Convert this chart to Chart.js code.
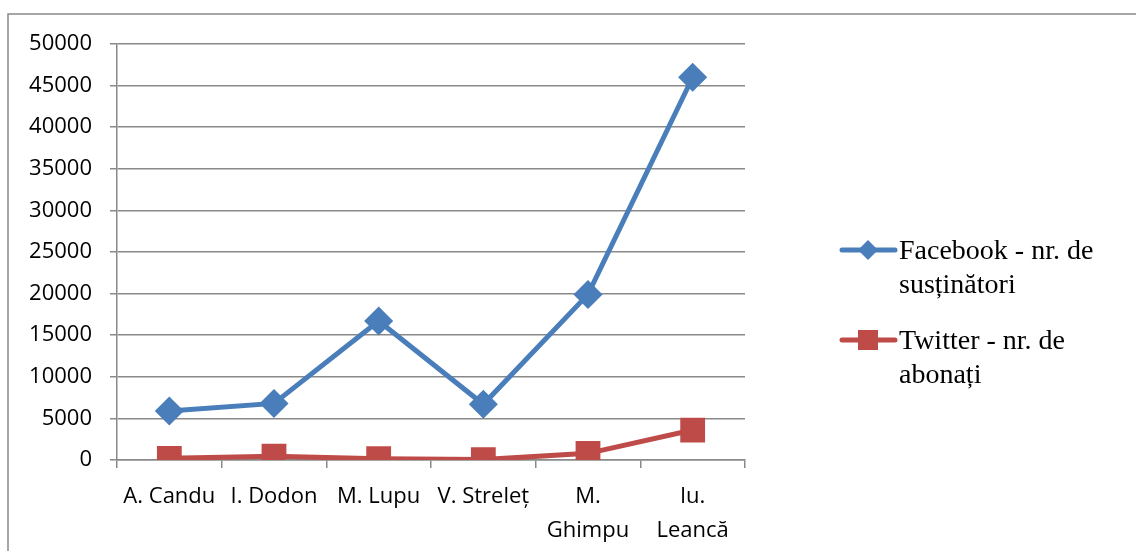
<!DOCTYPE html>
<html>
<head>
<meta charset="utf-8">
<script src="https://cdn.jsdelivr.net/npm/chart.js@4/dist/chart.umd.min.js"></script>
<style>
  html, body { margin: 0; padding: 0; background: #fff; }
  #wrap { width: 1136px; height: 551px; position: relative; }
</style>
</head>
<body>
<div id="wrap"><canvas id="grafic"></canvas></div>
<script>
const candidati = ["A. Candu", "I. Dodon", "M. Lupu", "V. Streleț", ["M.", "Ghimpu"], ["Iu.", "Leancă"]];
const facebook = [5900, 6800, 16700, 6700, 19900, 46000];
const twitter = [200, 450, 150, 50, 800, 3600];
const serii = ["Facebook - nr. de susținători", "Twitter - nr. de abonați"];
const legendaRanduri = [["Facebook - nr. de", "susținători"], ["Twitter - nr. de", "abonați"]];

const albastru = "#4A7EBB";
const rosu = "#BE4B48";
const gri = "#898989";

// chenarul exterior si legenda desenata de mana (text pe doua randuri)
const chenar = {
  id: "chenar",
  beforeDraw(chart) {
    const c = chart.ctx;
    c.save();
    c.strokeStyle = gri;
    c.lineWidth = 1.5;
    c.beginPath();
    c.moveTo(8, 600);
    c.lineTo(8, 14);
    c.lineTo(1140, 14);
    c.stroke();
    c.restore();
  },
  afterDraw(chart) {
    const c = chart.ctx;
    const culori = [albastru, rosu];
    const yMarker = [250, 340];
    c.save();
    c.font = "28px 'Liberation Serif'";
    c.textBaseline = "middle";
    legendaRanduri.forEach((randuri, i) => {
      const y = yMarker[i];
      c.strokeStyle = culori[i];
      c.lineWidth = 5;
      c.lineCap = "round";
      c.beginPath();
      c.moveTo(842, y);
      c.lineTo(895, y);
      c.stroke();
      c.fillStyle = culori[i];
      c.beginPath();
      if (i === 0) {
        c.moveTo(868, y - 10);
        c.lineTo(878, y);
        c.lineTo(868, y + 10);
        c.lineTo(858, y);
      } else {
        c.rect(858, y - 10, 20, 20);
      }
      c.closePath();
      c.fill();
      c.fillStyle = "#000";
      randuri.forEach((t, k) => c.fillText(t, 899, y + 2 + k * 34));
    });
    c.restore();
  }
};

new Chart(document.getElementById("grafic").getContext("2d"), {
  type: "line",
  data: {
    labels: candidati,
    datasets: [
      {
        label: serii[0],
        data: facebook,
        borderColor: albastru,
        backgroundColor: albastru,
        borderWidth: 5,
        pointStyle: "rectRot",
        pointRadius: 11,
        pointHoverRadius: 11,
        tension: 0
      },
      {
        label: serii[1],
        data: twitter,
        borderColor: rosu,
        backgroundColor: rosu,
        borderWidth: 5,
        pointStyle: "rect",
        pointRadius: 14,
        pointHoverRadius: 14,
        tension: 0
      }
    ]
  },
  options: {
    responsive: true,
    maintainAspectRatio: false,
    animation: false,
    layout: { padding: { top: 44, right: 391, left: 0, bottom: 0 } },
    plugins: {
      legend: { display: false },
      tooltip: { enabled: false }
    },
    scales: {
      x: {
        offset: true,
        afterFit(s) { s.height = 91; },
        grid: {
          offset: true,
          drawOnChartArea: false,
          drawTicks: true,
          tickLength: 8,
          color: gri,
          lineWidth: 1.5
        },
        border: { color: gri, width: 1.5 },
        ticks: {
          color: "#000",
          padding: 12,
          maxRotation: 0,
          autoSkip: false,
          font: { family: "'Open Sans'", size: 22, lineHeight: 1.55 }
        }
      },
      y: {
        min: 0,
        max: 50000,
        afterFit(s) { s.width = 117; },
        grid: {
          color: gri,
          lineWidth: 1.5,
          tickLength: 7
        },
        border: { color: gri, width: 1.5 },
        ticks: {
          stepSize: 5000,
          color: "#000",
          padding: 18,
          callback: (v) => String(v),
          font: { family: "'Open Sans'", size: 22 }
        }
      }
    }
  },
  plugins: [chenar]
});
</script>
</body>
</html>
